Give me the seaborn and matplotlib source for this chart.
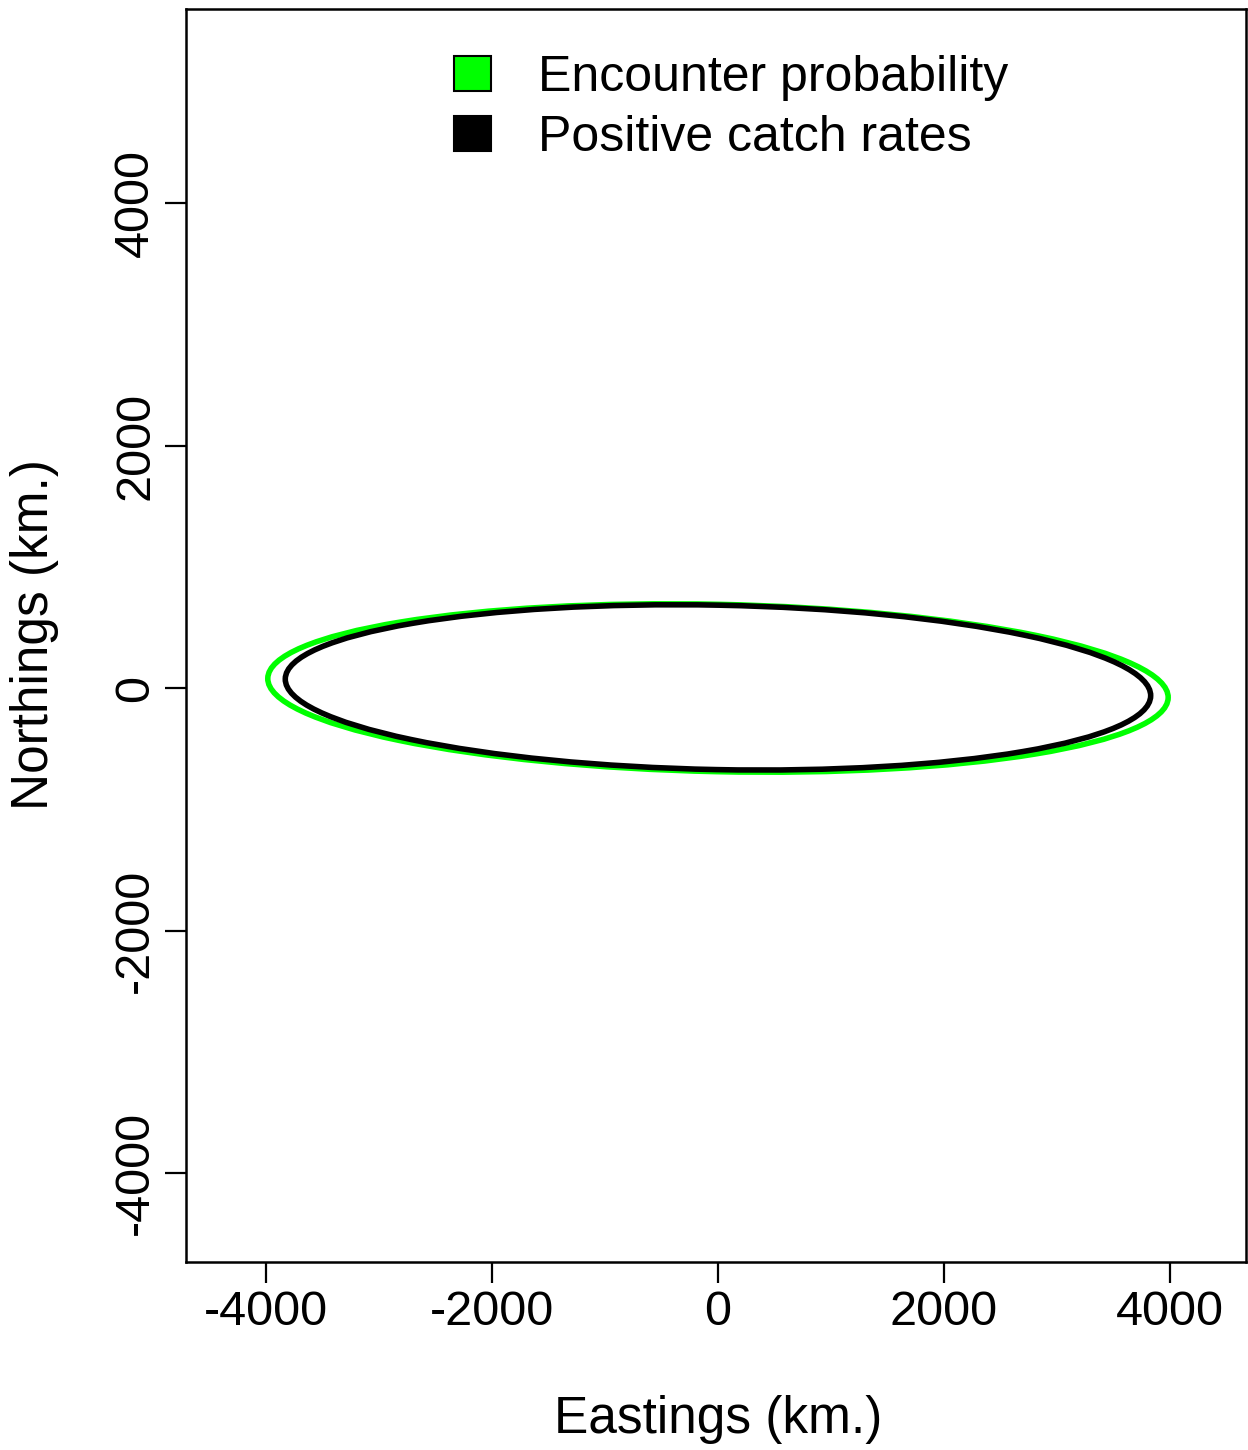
import matplotlib
matplotlib.use("Agg")
import matplotlib.pyplot as plt
import seaborn as sns
from matplotlib.patches import Ellipse, Patch

# ---- data (km) ----
series_names = ["Encounter probability", "Positive catch rates"]
series_colors = ["#00FF00", "#000000"]
center_x = [0.0, 0.0]
center_y = [0.0, 5.0]
semi_major = [3985.0, 3830.0]
semi_minor = [690.0, 678.0]
angle_deg = [-1.15, -1.05]

x_ticks = [-4000, -2000, 0, 2000, 4000]
y_ticks = [-4000, -2000, 0, 2000, 4000]

sns.set_theme(style="white")
plt.rcParams["font.family"] = ["Liberation Sans", "DejaVu Sans"]
plt.rcParams["text.color"] = "black"
plt.rcParams["xtick.color"] = "black"
plt.rcParams["ytick.color"] = "black"
plt.rcParams["axes.labelcolor"] = "black"

W, H = 1248, 1450
fig = plt.figure(figsize=(W / 100, H / 100), dpi=100)
ax = fig.add_axes([186 / W, 1 - 1262 / H, (1246 - 186) / W, (1262 - 9) / H])

for cx, cy, a, b, ang, col in zip(center_x, center_y, semi_major, semi_minor, angle_deg, series_colors):
    e = Ellipse((cx, cy), width=2 * a, height=2 * b, angle=ang,
                fill=False, edgecolor=col, linewidth=4.0)
    ax.add_patch(e)

ax.set_xlim(-4708, 4673)
ax.set_ylim(-4734, 5600)
ax.set_xticks(x_ticks)
ax.set_yticks(y_ticks)
ax.set_xticklabels([str(v) for v in x_ticks], fontsize=35)
ax.set_yticklabels([str(v) for v in y_ticks], fontsize=35, rotation=90, va="center")
ax.tick_params(axis="both", direction="out", length=15, width=1.6, color="black",
               labelcolor="black", bottom=True, left=True, top=False, right=False, pad=5)
for s in ax.spines.values():
    s.set_visible(True)
    s.set_color("black")
    s.set_linewidth(1.8)
ax.set_facecolor("white")

fig.text(718 / W, 1 - 1420 / H, "Eastings (km.)", fontsize=37, ha="center", va="center", color="black")
fig.text(35 / W, 1 - 635 / H, "Northings (km.)", fontsize=37, ha="center", va="center",
         rotation=90, color="black")

handles = [Patch(facecolor=c, edgecolor="black", linewidth=1.5) for c in series_colors]
leg = ax.legend(handles, series_names, loc="upper left",
                bbox_to_anchor=(454 / W, 1 - 55 / H), bbox_transform=fig.transFigure,
                frameon=False, fontsize=36, handlelength=0.74, handleheight=0.72,
                handletextpad=0.95, labelspacing=0.28, borderpad=0, borderaxespad=0)
for t in leg.get_texts():
    t.set_color("black")

fig.savefig("out.png", dpi=100, facecolor="white")
